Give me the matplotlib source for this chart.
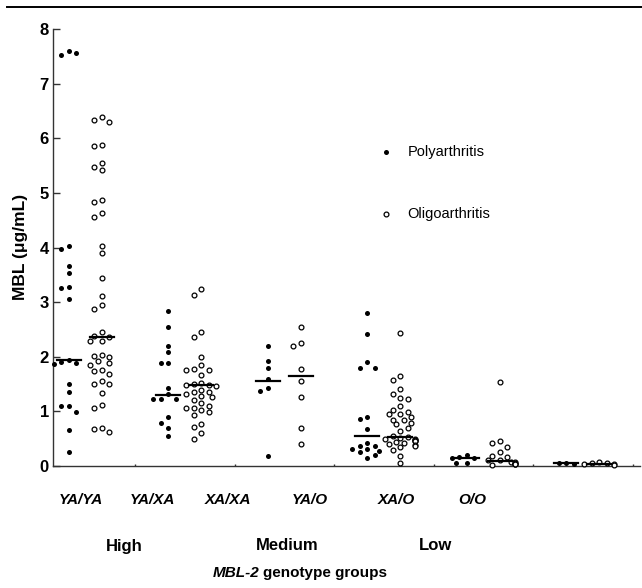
import numpy as np
import matplotlib
matplotlib.use('Agg')
import matplotlib.pyplot as plt
from matplotlib.lines import Line2D

plt.rcParams['font.family'] = ['Liberation Sans', 'DejaVu Sans']

# --- data (MBL, ug/mL) ---
genotypes = ['YA/YA', 'YA/XA', 'XA/XA', 'YA/O', 'XA/O', 'O/O']
levels = ['High', 'Medium', 'Low']

yaya_poly = [7.60, 7.52, 7.56, 4.03, 3.98, 3.67, 3.54, 3.28, 3.26, 3.05, 1.94, 1.90,
             1.88, 1.86, 1.51, 1.35, 1.09, 1.09, 0.98, 0.66, 0.25]
yaya_oligo = [6.39, 6.34, 6.29, 5.87, 5.85, 5.54, 5.48, 5.41, 4.87, 4.84, 4.63, 4.55,
              4.03, 3.90, 3.44, 3.11, 2.95, 2.88, 2.46, 2.38, 2.37, 2.29, 2.29, 2.03,
              2.01, 2.00, 1.92, 1.88, 1.85, 1.76, 1.73, 1.68, 1.56, 1.50, 1.50, 1.33,
              1.12, 1.06, 0.69, 0.67, 0.62]
yaxa_poly = [2.84, 2.54, 2.20, 2.08, 1.89, 1.88, 1.43, 1.31, 1.22, 1.22, 1.22, 0.89,
             0.78, 0.70, 0.55]
yaxa_oligo = [3.24, 3.13, 2.46, 2.36, 1.99, 1.85, 1.77, 1.75, 1.75, 1.67, 1.52, 1.50,
              1.49, 1.48, 1.47, 1.40, 1.36, 1.36, 1.32, 1.28, 1.26, 1.20, 1.16, 1.10,
              1.07, 1.06, 1.03, 0.98, 0.93, 0.77, 0.72, 0.60, 0.49]
xaxa_poly = [2.19, 1.92, 1.80, 1.59, 1.42, 1.38, 0.18]
xaxa_oligo = [2.55, 2.25, 2.20, 1.77, 1.56, 1.26, 0.70, 0.40]
yao_poly = [2.81, 2.41, 1.90, 1.79, 1.79, 0.90, 0.86, 0.68, 0.43, 0.37, 0.37, 0.32,
            0.31, 0.28, 0.25, 0.20, 0.15]
yao_oligo = [2.43, 1.64, 1.58, 1.41, 1.32, 1.25, 1.22, 1.09, 1.03, 0.98, 0.95, 0.95,
             0.90, 0.85, 0.84, 0.78, 0.77, 0.70, 0.64, 0.55, 0.53, 0.52, 0.50, 0.50,
             0.48, 0.47, 0.46, 0.45, 0.44, 0.42, 0.40, 0.38, 0.36, 0.34, 0.30, 0.19, 0.05]
xao_poly = [0.21, 0.16, 0.15, 0.15, 0.06, 0.06]
xao_oligo = [1.53, 0.45, 0.43, 0.35, 0.26, 0.19, 0.16, 0.11, 0.11, 0.08, 0.08, 0.06,
             0.04, 0.04, 0.04, 0.02]
oo_poly = [0.05, 0.05, 0.04]
oo_oligo = [0.07, 0.06, 0.05, 0.04, 0.03, 0.02]

median_poly = [1.94, 1.30, 1.56, 0.55, 0.15, 0.05]
median_oligo = [2.37, 1.48, 1.65, 0.53, 0.09, 0.03]

poly_groups = [yaya_poly, yaxa_poly, xaxa_poly, yao_poly, xao_poly, oo_poly]
oligo_groups = [yaya_oligo, yaxa_oligo, xaxa_oligo, yao_oligo, xao_oligo, oo_oligo]

fig = plt.figure(figsize=(6.42, 5.88), dpi=100)
ax = fig.add_axes([53 / 642, 1 - 466 / 588, 587 / 642, 437 / 588])
ax.set_xlim(-0.324, 5.575)
ax.set_ylim(0, 8)

# pixel scale of the data units, for spreading the points sideways
fig.canvas.draw()
p0 = ax.transData.transform((0, 0))
p1 = ax.transData.transform((1, 1))
px_x = p1[0] - p0[0]
px_y = p1[1] - p0[1]


def spread(values, centre):
    # column scatter: each point goes to the first slot not crowded by earlier ones
    slots = [0, -7.5, 7.5, -3.75, 3.75, -11.25, 11.25, -15.0, 15.0]
    placed = []
    xs = []
    for v in values:
        y = v * px_y
        for s in slots:
            if all(((s - a) / 5.0) ** 2 + ((y - b) / 6.5) ** 2 >= 1 for a, b in placed):
                break
        placed.append((s, y))
        xs.append(centre + s / px_x)
    return xs


off = 0.165
half = 0.12
for i in range(len(genotypes)):
    xp = spread(poly_groups[i], i - off)
    ax.scatter(xp, poly_groups[i], s=13, color='black', linewidths=0, zorder=3, clip_on=False)
    xo = spread(oligo_groups[i], i + off)
    ax.scatter(xo, oligo_groups[i], s=12, facecolors='white', edgecolors='black',
               linewidths=0.9, zorder=3, clip_on=False)
    ax.plot([i - off - half, i - off + half], [median_poly[i]] * 2, color='black', lw=1.6, zorder=4)
    ax.plot([i + off - half, i + off + half], [median_oligo[i]] * 2, color='black', lw=1.6, zorder=4)

ax.spines['top'].set_visible(False)
ax.spines['right'].set_visible(False)
ax.spines['left'].set_linewidth(1.0)
ax.spines['bottom'].set_linewidth(1.0)
ax.spines['left'].set_color('#333333')
ax.spines['bottom'].set_color('#333333')
ax.set_yticks(range(0, 9))
ax.set_yticklabels([str(t) for t in range(0, 9)], fontsize=12, fontweight='bold')
ax.tick_params(axis='y', direction='in', length=5, width=1, pad=3, color='#333333')
ax.set_xticks(np.arange(0.5, 6, 1.0))
ax.set_xticklabels([])
ax.tick_params(axis='x', direction='in', length=1.5, width=1, color='#333333')

# legend
ax.scatter([3.02], [5.75], s=13, color='black', linewidths=0)
ax.text(3.24, 5.75, 'Polyarthritis', fontsize=10.5, va='center')
ax.scatter([3.02], [4.62], s=12, facecolors='white', edgecolors='black', linewidths=0.9)
ax.text(3.24, 4.62, 'Oligoarthritis', fontsize=10.5, va='center')

# axis labels and group labels
fig.text(21 / 642, 1 - 247 / 588, 'MBL (\u03bcg/mL)', rotation=90, fontsize=12.5,
         fontweight='bold', ha='center', va='center')
for lab, xpix in zip(genotypes, [81, 152, 228, 310, 396, 472]):
    fig.text(xpix / 642, 1 - 500 / 588, lab, fontsize=11, fontweight='bold', style='italic',
             ha='center', va='center')
for lab, xpix in zip(levels, [124, 287, 436]):
    fig.text(xpix / 642, 1 - 546 / 588, lab, fontsize=12, fontweight='bold',
             ha='center', va='center')
fig.text(259 / 642, 1 - 573 / 588, 'MBL-2', fontsize=11, fontweight='bold', style='italic',
         ha='right', va='center')
fig.text(263 / 642, 1 - 573 / 588, 'genotype groups', fontsize=11, fontweight='bold',
         ha='left', va='center')

# rule across the top of the panel
fig.add_artist(Line2D([7 / 642, 1.0], [1 - 7 / 588, 1 - 7 / 588], color='black', lw=1.4))

plt.savefig('out.png', dpi=100)
